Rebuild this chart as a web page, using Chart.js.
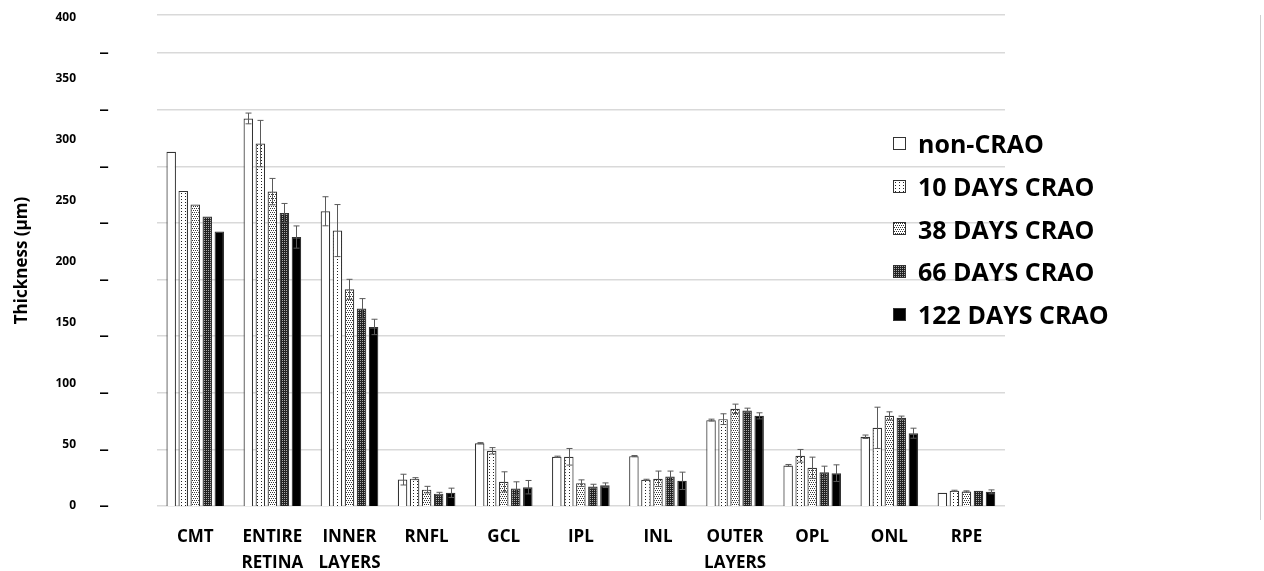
<!DOCTYPE html>
<html>
<head>
<meta charset="utf-8">
<script src="https://cdn.jsdelivr.net/npm/chart.js@4.4.0/dist/chart.umd.min.js"></script>
<style>
  body { margin: 0; background: #fff; }
  #wrap { position: relative; width: 1264px; height: 571px; }
  #legend { position: absolute; left: 893px; top: 122px; font-family: "Open Sans", sans-serif; font-weight: 700; font-size: 25px; color: #000; }
  #legend .row { height: 42.7px; display: flex; align-items: center; }
  #legend canvas { border: 1px solid #333; margin-right: 12px; }
  #rborder { position: absolute; left: 1260px; top: 15px; width: 0; height: 505px; border-left: 1px solid #cfcfcf; }
</style>
</head>
<body>
<div id="wrap">
  <canvas id="chart" width="1264" height="571"></canvas>
  <div id="legend"></div>
  <div id="rborder"></div>
</div>
<script>
const categories = [['CMT'], ['ENTIRE', 'RETINA'], ['INNER', 'LAYERS'], 'RNFL', 'GCL', 'IPL', 'INL', ['OUTER', 'LAYERS'], 'OPL', 'ONL', 'RPE'];
const seriesNames = ['non-CRAO', '10 DAYS CRAO', '38 DAYS CRAO', '66 DAYS CRAO', '122 DAYS CRAO'];

const nonCrao = [290, 317.3, 241.3, 21.6, 51.4, 40.3, 40.8, 70.3, 33.2, 56.7, 10.8];
const nonCraoErr = [0, 4.4, 11.9, 4.4, 0.5, 0.5, 0.5, 0.8, 0.8, 1.4, 0];
const days10 = [258, 296.7, 225.5, 22.4, 45.2, 40.3, 21.4, 71.1, 41.1, 64, 12.4];
const days10Err = [0, 19, 21.3, 0.8, 2.6, 6.8, 0.5, 4.4, 5.2, 16.9, 0.5];
const days38 = [246.8, 257.4, 177.4, 13.4, 19.8, 18.7, 22.3, 79.6, 31.3, 73.8, 11.9];
const days38Err = [0, 10.8, 8.2, 2.7, 8.2, 2.7, 6.3, 3.8, 8.7, 3.3, 0.5];
const days66 = [237, 239.9, 161.6, 10.1, 14.3, 16, 24.2, 78.2, 27.7, 72.2, 12.4];
const days66Err = [0, 7.8, 8.2, 1.1, 5.5, 1.8, 4.4, 1.9, 4.9, 1.4, 0];
const days122 = [224.7, 220.2, 146.6, 10.8, 15.4, 17, 20.6, 73.8, 26.9, 59.6, 11.6];
const days122Err = [0, 9.1, 6.3, 3.8, 5.5, 1.9, 7.1, 2.5, 6.8, 4.1, 1.6];

const yTicks = [0, 50, 100, 150, 200, 250, 300, 350, 400];

// small tiles for the hatch-like fills
function makePattern(w, h, bg, fg, dots) {
  const c = document.createElement('canvas');
  c.width = w; c.height = h;
  const g = c.getContext('2d');
  g.fillStyle = bg; g.fillRect(0, 0, w, h);
  g.fillStyle = fg;
  dots.forEach(d => g.fillRect(d[0], d[1], 1, 1));
  return g.createPattern(c, 'repeat');
}

const fills = [
  '#ffffff',
  makePattern(4, 3, '#ffffff', '#222', [[1, 1]]),
  makePattern(4, 4, '#ffffff', '#333', [[0, 0], [2, 0], [1, 2], [3, 2]]),
  makePattern(2, 2, '#222', '#aaa', [[0, 0]]),
  '#000000'
];

const values = [nonCrao, days10, days38, days66, days122];
const errs = [nonCraoErr, days10Err, days38Err, days66Err, days122Err];

const errorBars = {
  id: 'errorBars',
  afterDatasetsDraw(chart) {
    const ctx = chart.ctx;
    const yScale = chart.scales.y;
    ctx.save();
    ctx.strokeStyle = '#5a5a5a';
    ctx.lineWidth = 1;
    chart.data.datasets.forEach((ds, i) => {
      const meta = chart.getDatasetMeta(i);
      meta.data.forEach((bar, j) => {
        const e = ds.errors[j];
        if (!e) return;
        const v = ds.data[j];
        const top = yScale.getPixelForValue(v + e);
        const bot = yScale.getPixelForValue(v - e);
        const x = Math.round(bar.x) + 0.5;
        ctx.beginPath();
        ctx.moveTo(x, top); ctx.lineTo(x, bot);
        ctx.moveTo(x - 3, top); ctx.lineTo(x + 3, top);
        ctx.moveTo(x - 3, bot); ctx.lineTo(x + 3, bot);
        ctx.stroke();
      });
    });
    ctx.restore();
  }
};

const font = 'Open Sans';

new Chart(document.getElementById('chart'), {
  type: 'bar',
  data: {
    labels: categories,
    datasets: seriesNames.map((name, i) => ({
      label: name,
      data: values[i],
      errors: errs[i],
      backgroundColor: fills[i],
      borderColor: '#333',
      borderWidth: 1.2,
      yAxisID: 'y',
      categoryPercentage: 0.78,
      barPercentage: 0.79
    }))
  },
  options: {
    responsive: false,
    animation: false,
    events: [],
    layout: { padding: { top: 15, right: 259, left: 0, bottom: 0 } },
    plugins: { legend: { display: false }, tooltip: { enabled: false } },
    scales: {
      x: {
        grid: { display: false, drawTicks: false },
        border: { display: false },
        ticks: {
          color: '#000',
          padding: 18,
          maxRotation: 0,
          font: { family: font, weight: 'bold', size: 17, lineHeight: 1.55 }
        },
        afterFit: s => { s.height = 65; s.paddingLeft = 0; s.paddingRight = 0; }
      },
      yGrid: {
        position: 'left',
        weight: 1,
        min: 0,
        max: 433.7,
        grid: { color: '#d9d9d9', lineWidth: 1.5, drawTicks: false },
        border: { display: false },
        afterBuildTicks: s => { s.ticks = yTicks.concat([433.7]).map(v => ({ value: v })); },
        ticks: {
          color: '#000',
          padding: 48,
          font: { family: font, weight: 'bold', size: 15 },
          callback: v => (v <= 400 ? '\u2014' : '')
        },
        afterFit: s => { s.width = 56.7; s.paddingTop = 0; s.paddingBottom = 0; }
      },
      y: {
        position: 'left',
        weight: 2,
        min: 0,
        max: 402,
        grid: { display: false, drawTicks: false },
        border: { display: false },
        afterBuildTicks: s => { s.ticks = yTicks.map(v => ({ value: v })); },
        ticks: {
          color: '#000',
          padding: 24,
          font: { family: font, weight: 'bold', size: 12 }
        },
        title: {
          display: true,
          text: 'Thickness (\u00b5m)',
          color: '#000',
          padding: { top: 12, bottom: 0 },
          font: { family: font, weight: 'bold', size: 17 }
        },
        afterFit: s => { s.width = 100; s.paddingTop = 0; s.paddingBottom = 0; }
      }
    }
  },
  plugins: [errorBars]
});

// legend drawn as html text next to the plot
const legend = document.getElementById('legend');
seriesNames.forEach((name, i) => {
  const row = document.createElement('div');
  row.className = 'row';
  const sw = document.createElement('canvas');
  sw.width = 11; sw.height = 11;
  const g = sw.getContext('2d');
  g.fillStyle = fills[i];
  g.fillRect(0, 0, 11, 11);
  const txt = document.createElement('span');
  txt.textContent = name;
  row.appendChild(sw);
  row.appendChild(txt);
  legend.appendChild(row);
});
</script>
</body>
</html>
